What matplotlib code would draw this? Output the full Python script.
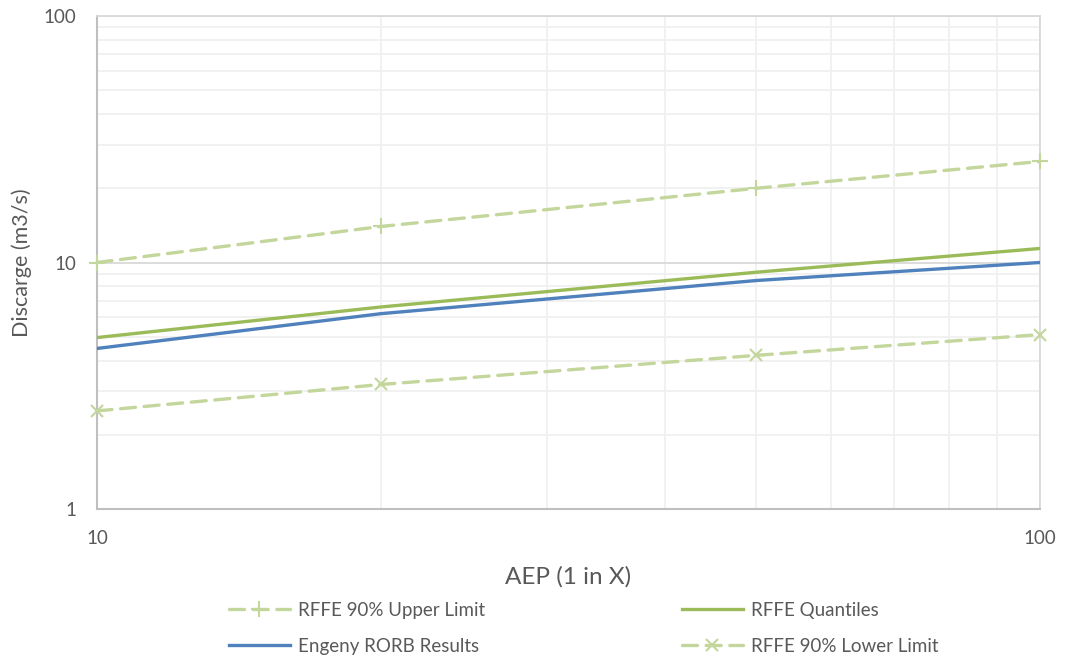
import matplotlib
matplotlib.use("Agg")
import matplotlib.pyplot as plt
from matplotlib.ticker import LogLocator, NullFormatter, FixedLocator, FixedFormatter

plt.rcParams["font.family"] = ["Lato", "DejaVu Sans"]

# data
aep = [10, 20, 50, 100]
rffe_upper = [10.0, 14.0, 20.0, 25.7]
rffe_quantiles = [4.96, 6.6, 9.13, 11.4]
engeny_rorb = [4.48, 6.2, 8.45, 10.0]
rffe_lower = [2.5, 3.2, 4.2, 5.1]

x_ticks = [10, 100]
y_ticks = [1, 10, 100]

txt = "#595959"
light_green = "#c3d69b"

fig = plt.figure(figsize=(10.67, 6.58), dpi=100)
ax = fig.add_axes([97 / 1067, 1 - 509 / 658, (1040 - 97) / 1067, (509 - 16) / 658])

ax.set_xscale("log")
ax.set_yscale("log")
ax.set_xlim(10, 100)
ax.set_ylim(1, 100)

# gridlines like excel
ax.xaxis.set_major_locator(FixedLocator(x_ticks))
ax.xaxis.set_major_formatter(FixedFormatter([str(v) for v in x_ticks]))
ax.yaxis.set_major_locator(FixedLocator(y_ticks))
ax.yaxis.set_major_formatter(FixedFormatter([str(v) for v in y_ticks]))
ax.xaxis.set_minor_locator(LogLocator(base=10, subs=range(2, 10)))
ax.yaxis.set_minor_locator(LogLocator(base=10, subs=range(2, 10)))
ax.xaxis.set_minor_formatter(NullFormatter())
ax.yaxis.set_minor_formatter(NullFormatter())
ax.grid(True, which="major", color="#d9d9d9", lw=1.3)
ax.grid(True, which="minor", color="#f0f0f0", lw=1.3)
ax.set_axisbelow(True)
ax.tick_params(which="both", length=0)
ax.tick_params(axis="x", pad=15, labelsize=13.5, labelcolor=txt)
ax.tick_params(axis="y", pad=15, labelsize=13.5, labelcolor=txt)

for s in ["top", "right"]:
    ax.spines[s].set_color("#d9d9d9")
    ax.spines[s].set_linewidth(1.3)
for s in ["left", "bottom"]:
    ax.spines[s].set_color("#bfbfbf")
    ax.spines[s].set_linewidth(1.5)

dash = (4.5, 2.6)
ax.plot(aep, rffe_upper, color=light_green, lw=2.4, dashes=dash, dash_capstyle="round",
        marker="+", ms=11, mew=1.5, label="RFFE 90% Upper Limit", clip_on=False, zorder=3)
ax.plot(aep, engeny_rorb, color="#4f81bd", lw=2.4, label="Engeny RORB Results", zorder=4)
ax.plot(aep, rffe_quantiles, color="#9bbb59", lw=2.4, label="RFFE Quantiles", zorder=4)
ax.plot(aep, rffe_lower, color=light_green, lw=2.4, dashes=dash, dash_capstyle="round",
        marker="x", ms=9, mew=1.5, label="RFFE 90% Lower Limit", clip_on=False, zorder=3)

ax.set_xlabel("AEP (1 in X)", fontsize=17.5, color=txt, labelpad=14)
ax.set_ylabel("Discarge (m3/s)", fontsize=15.5, color=txt, labelpad=8)

leg = ax.legend(loc="upper left", bbox_to_anchor=(0.122, -0.154), ncol=2, frameon=False,
                fontsize=13.5, handlelength=3.25, handletextpad=0.43, columnspacing=10.5,
                labelspacing=1.0, labelcolor=txt)

fig.savefig("out.png", dpi=100)
